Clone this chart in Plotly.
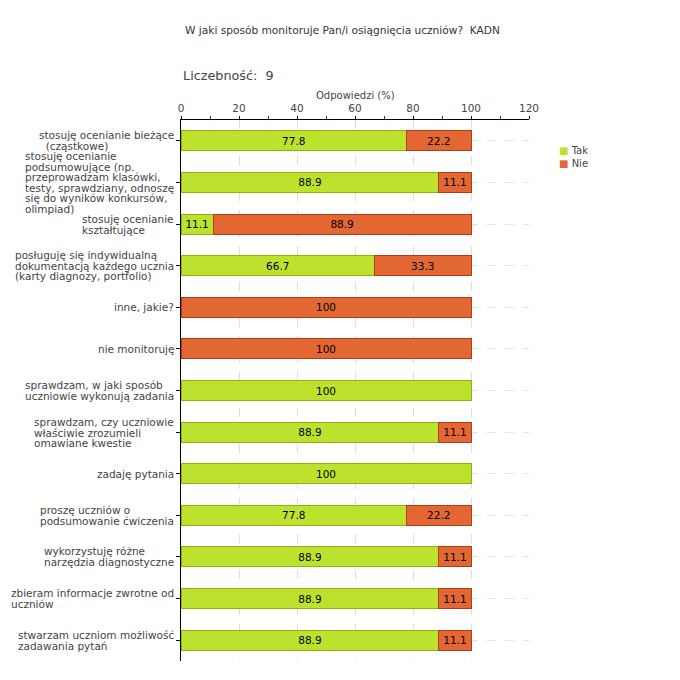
import plotly.graph_objects as go

categories = [
    "stosuję ocenianie bieżące<br>  (cząstkowe)",
    "stosuję ocenianie<br>podsumowujące (np.<br>przeprowadzam klasówki,<br>testy, sprawdziany, odnoszę<br>się do wyników konkursów,<br>olimpiad)",
    "stosuję ocenianie<br>kształtujące",
    "posługuję się indywidualną<br>dokumentacją każdego ucznia<br>(karty diagnozy, portfolio)",
    "inne, jakie?",
    "nie monitoruję",
    "sprawdzam, w jaki sposób<br>uczniowie wykonują zadania",
    "sprawdzam, czy uczniowie<br>właściwie zrozumieli<br>omawiane kwestie",
    "zadaję pytania",
    "proszę uczniów o<br>podsumowanie ćwiczenia",
    "wykorzystuję różne<br>narzędzia diagnostyczne",
    "zbieram informacje zwrotne od<br>uczniów",
    "stwarzam uczniom możliwość<br>zadawania pytań",
]
tak = [77.8, 88.9, 11.1, 66.7, 0, 0, 100, 88.9, 100, 77.8, 88.9, 88.9, 88.9]
nie = [22.2, 11.1, 88.9, 33.3, 100, 100, 0, 11.1, 0, 22.2, 11.1, 11.1, 11.1]
x_ticks = [0, 20, 40, 60, 80, 100, 120]
series_names = ["Tak", "Nie"]

title_text = "W jaki sposób monitoruje Pan/i osiągnięcia uczniów?  KADN"
count_text = "Liczebność:  9"
x_title = "Odpowiedzi (%)"

FONT = "DejaVu Sans"
GREEN = "#bde22e"
GREEN_LINE = "#8fb010"
RED = "#e26732"
RED_LINE = "#b53b12"
LABEL_COLOR = "#444444"

def fmt(v):
    if v == 0:
        return ""
    return str(int(v)) if v == int(v) else f"{v:.1f}"

fig = go.Figure()
for name, vals, col, lcol in [(series_names[0], tak, GREEN, GREEN_LINE),
                              (series_names[1], nie, RED, RED_LINE)]:
    fig.add_trace(go.Bar(
        y=categories, x=vals, name=name, orientation="h", showlegend=False,
        marker=dict(color=col, line=dict(color=lcol, width=[1 if v > 0 else 0 for v in vals])),
        text=[fmt(v) for v in vals], textposition="inside", insidetextanchor="middle",
        textfont=dict(color="black", size=10.5, family=FONT), constraintext="none",
        hoverinfo="x+y",
    ))

annotations = []
# category labels: tight line spacing (small base font, larger spans)
for c in categories:
    lines = c.split("<br>")
    txt = "<br>".join(
        '<span style="font-size:10.5px">' + ln.replace("  ", "\u00a0\u00a0") + "</span>" for ln in lines
    )
    annotations.append(dict(
        x=-0.014, xref="paper", y=c, yref="y", text=txt, showarrow=False,
        xanchor="right", yanchor="middle", align="left",
        font=dict(size=8.1, color=LABEL_COLOR, family=FONT),
    ))
annotations.append(dict(x=0.005, xref="paper", y=1.166, yref="paper", text=title_text,
                        showarrow=False, xanchor="left", yanchor="middle",
                        font=dict(size=10.6, color="#333", family=FONT)))
annotations.append(dict(x=0.0, xref="paper", y=1.083, yref="paper", text=count_text,
                        showarrow=False, xanchor="left", yanchor="middle",
                        font=dict(size=12.8, color=LABEL_COLOR, family=FONT)))
annotations.append(dict(x=0.5, xref="paper", y=1.0445, yref="paper", text=x_title,
                        showarrow=False, xanchor="center", yanchor="middle",
                        font=dict(size=10, color=LABEL_COLOR, family=FONT)))
# legend
for i, (name, col) in enumerate(zip(series_names, [GREEN, RED])):
    annotations.append(dict(
        x=1.08, xref="paper", y=0.944 - i * 0.024, yref="paper",
        text=f'<span style="color:{col}">■</span> {name}', showarrow=False,
        xanchor="left", yanchor="middle", font=dict(size=10, color=LABEL_COLOR, family=FONT),
    ))

# page body has an 8px margin -> compensate so the plot sits where the reference's does
fig.update_layout(
    width=672, height=672,
    margin=dict(l=173, r=151, t=112, b=19),
    paper_bgcolor="white", plot_bgcolor="white",
    barmode="stack", bargap=0.52,
    font=dict(family=FONT, size=10, color=LABEL_COLOR),
    showlegend=False,
    annotations=annotations,
    xaxis=dict(
        side="top", range=[0, 120], tickvals=x_ticks,
        showline=True, linecolor="black", linewidth=1,
        ticks="outside", ticklen=3, tickcolor="black",
        tickfont=dict(size=10.5, color=LABEL_COLOR, family=FONT),
        showgrid=True, gridcolor="#dddddd", griddash="dash", gridwidth=1,
        minor=dict(dtick=10, ticks="outside", ticklen=3, tickcolor="#cc0000", showgrid=False),
        zeroline=False, fixedrange=True,
    ),
    yaxis=dict(
        categoryorder="array", categoryarray=categories, autorange="reversed",
        showticklabels=False, showline=True, linecolor="black", linewidth=1,
        ticks="outside", ticklen=4, tickcolor="black",
        showgrid=True, gridcolor="#e4e4e4", griddash="dash", gridwidth=1,
        zeroline=False, fixedrange=True,
    ),
)

fig.write_html("out.html")
